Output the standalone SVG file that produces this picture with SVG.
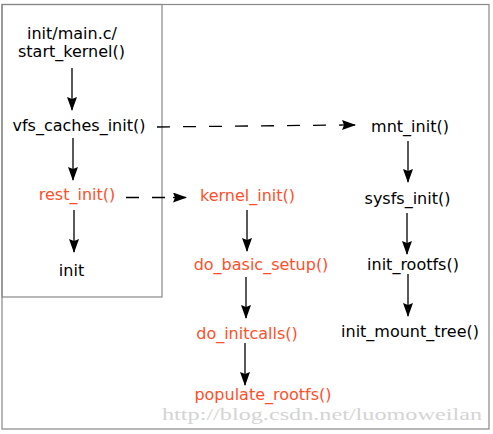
<svg xmlns="http://www.w3.org/2000/svg" width="493" height="434" viewBox="0 0 493 434">
<defs>
<style>
.t{font-family:"DejaVu Sans",sans-serif;font-size:16px;text-anchor:middle;fill:#000}
.r{fill:#ff4f2a}
.box{fill:none;stroke:#888;stroke-width:1.2}
.ln{stroke:#000;stroke-width:1.3;fill:none}
.ds{stroke:#000;stroke-width:1.3;fill:none;stroke-dasharray:13 13}
.wm{font-family:"Liberation Serif","DejaVu Serif",serif;font-size:17px;fill:#d4d4d4}
</style>
<marker id="ah" viewBox="0 0 14 10" refX="13" refY="5" markerWidth="14" markerHeight="10" markerUnits="userSpaceOnUse" orient="auto">
<path d="M0,0 L14,5 L0,10 L2,5 Z" fill="#000"/>
</marker>
</defs>
<rect x="0" y="0" width="493" height="434" fill="#fff"/>
<rect class="box" x="2" y="4.5" width="487" height="424.5"/>
<rect class="box" x="2" y="4.5" width="160" height="292.5"/>
<g id="connectors">
<line class="ln" x1="72" y1="68" x2="72" y2="110" marker-end="url(#ah)"/>
<line class="ln" x1="73" y1="138" x2="73" y2="180" marker-end="url(#ah)"/>
<line class="ln" x1="74" y1="210" x2="74" y2="252" marker-end="url(#ah)"/>
<line class="ln" x1="247" y1="210" x2="247" y2="251" marker-end="url(#ah)"/>
<line class="ln" x1="246" y1="277" x2="246" y2="318" marker-end="url(#ah)"/>
<line class="ln" x1="245" y1="343" x2="245" y2="385" marker-end="url(#ah)"/>
<line class="ln" x1="408" y1="141" x2="408" y2="182" marker-end="url(#ah)"/>
<line class="ln" x1="407" y1="213" x2="407" y2="254" marker-end="url(#ah)"/>
<line class="ln" x1="408" y1="274" x2="408" y2="316" marker-end="url(#ah)"/>
<line class="ds" x1="157" y1="127" x2="342" y2="125"/>
<path d="M342,125 L355,125" class="ln" marker-end="url(#ah)" stroke-width="0"/>
<line class="ds" x1="126" y1="197.5" x2="173" y2="197.5" stroke-dasharray="13 13"/>
<path d="M173,197.5 L186,197.5" class="ln" marker-end="url(#ah)" stroke-width="0"/>
</g>
<g id="start_kernel"><text class="t" x="72" y="39">init/main.c/</text><text class="t" x="71.5" y="57">start_kernel()</text></g>
<g id="vfs_caches_init"><text class="t" x="79" y="131">vfs_caches_init()</text></g>
<g id="rest_init"><text class="t r" x="77" y="200">rest_init()</text></g>
<g id="init"><text class="t" x="71.5" y="276">init</text></g>
<g id="kernel_init"><text class="t r" x="247.5" y="201">kernel_init()</text></g>
<g id="do_basic_setup"><text class="t r" x="261" y="270">do_basic_setup()</text></g>
<g id="do_initcalls"><text class="t r" x="247" y="339">do_initcalls()</text></g>
<g id="populate_rootfs"><text class="t r" x="263" y="400">populate_rootfs()</text></g>
<g id="mnt_init"><text class="t" x="410" y="132">mnt_init()</text></g>
<g id="sysfs_init"><text class="t" x="407.5" y="204">sysfs_init()</text></g>
<g id="init_rootfs"><text class="t" x="413" y="270">init_rootfs()</text></g>
<g id="init_mount_tree"><text class="t" x="410" y="337">init_mount_tree()</text></g>
<text class="wm" x="162" y="420" textLength="320" lengthAdjust="spacingAndGlyphs">http://blog.csdn.net/luomoweilan</text>
</svg>
